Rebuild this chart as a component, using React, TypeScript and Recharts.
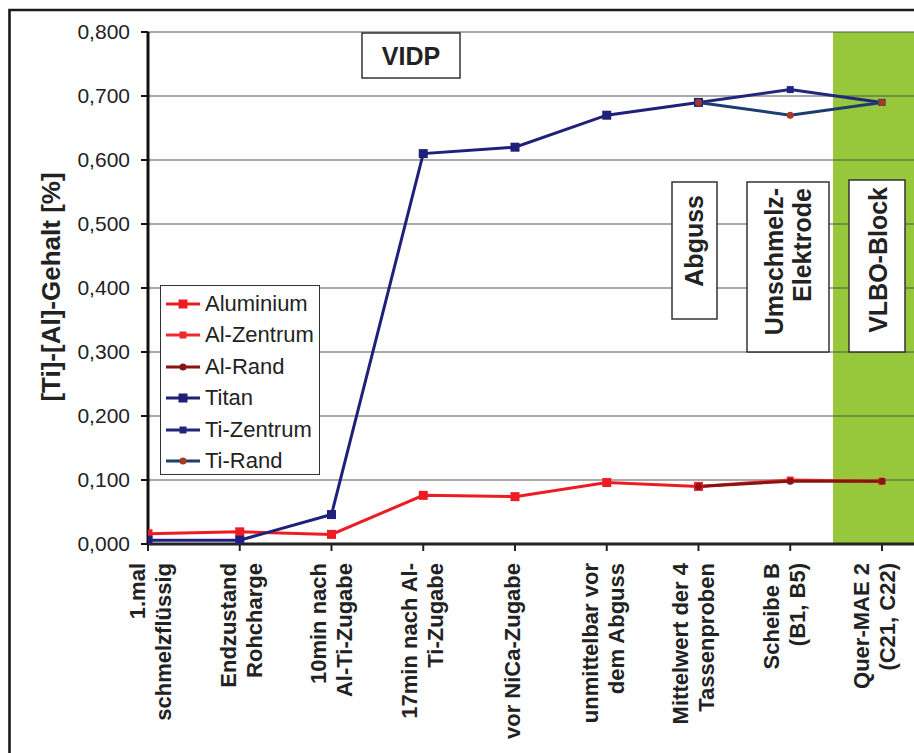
import React from "react"
import { LineChart, Line, XAxis, YAxis, CartesianGrid, Legend } from "recharts"

// sampling points along the process
const categories = [
  ["1.mal", "schmelzflüssig"],
  ["Endzustand", "Rohcharge"],
  ["10min nach", "Al-Ti-Zugabe"],
  ["17min nach Al-", "Ti-Zugabe"],
  ["vor NiCa-Zugabe"],
  ["unmittelbar vor", "dem Abguss"],
  ["Mittelwert der 4", "Tassenproben"],
  ["Scheibe B", "(B1, B5)"],
  ["Quer-MAE 2", "(C21, C22)"],
]

const aluminium = [0.016, 0.019, 0.015, 0.076, 0.074, 0.096, 0.09, null, null]
const alZentrum = [null, null, null, null, null, null, 0.09, 0.1, 0.098]
const alRand = [null, null, null, null, null, null, 0.09, 0.098, 0.098]
const titan = [0.006, 0.006, 0.046, 0.61, 0.62, 0.67, 0.69, null, null]
const tiZentrum = [null, null, null, null, null, null, 0.69, 0.71, 0.69]
const tiRand = [null, null, null, null, null, null, 0.69, 0.67, 0.69]

const yTicks = [0, 0.1, 0.2, 0.3, 0.4, 0.5, 0.6, 0.7, 0.8]
const xMax = 8.349 // plot runs past the last sample, cut at the picture edge
const vlboStart = 7.47 // green VLBO band starts here

const data = categories.map((c, i) => ({
  idx: i,
  aluminium: aluminium[i],
  alZentrum: alZentrum[i],
  alRand: alRand[i],
  titan: titan[i],
  tiZentrum: tiZentrum[i],
  tiRand: tiRand[i],
}))

type Series = { key: string; name: string; color: string; dot: string; shape: "square" | "circle"; size: number }

const series: Series[] = [
  { key: "aluminium", name: "Aluminium", color: "#ed1c24", dot: "#ed1c24", shape: "square", size: 9 },
  { key: "alZentrum", name: "Al-Zentrum", color: "#ee2a30", dot: "#ee2a30", shape: "square", size: 7 },
  { key: "alRand", name: "Al-Rand", color: "#8a1414", dot: "#8a1414", shape: "circle", size: 7 },
  { key: "titan", name: "Titan", color: "#1f2079", dot: "#1f2079", shape: "square", size: 9 },
  { key: "tiZentrum", name: "Ti-Zentrum", color: "#22267c", dot: "#22267c", shape: "square", size: 7 },
  { key: "tiRand", name: "Ti-Rand", color: "#1d3d6d", dot: "#a63a28", shape: "circle", size: 7 },
]

const FONT = "'Liberation Sans', Arial, sans-serif"

const marker = (s: Series, cx: number, cy: number) =>
  s.shape === "square" ? (
    <rect x={cx - s.size / 2} y={cy - s.size / 2} width={s.size} height={s.size} fill={s.dot} />
  ) : (
    <circle cx={cx} cy={cy} r={s.size / 2} fill={s.dot} />
  )

const makeDot = (s: Series) => (p: any) => {
  if (p.cx == null || p.cy == null || p.value == null) return <g key={`${s.key}-${p.index}`} />
  return <g key={`${s.key}-${p.index}`}>{marker(s, p.cx, p.cy)}</g>
}

// green band as a grid stripe, so the horizontal grid lines stay on top of it
const bandPoints = (args: any) => {
  const off = args?.offset ?? { left: 148, width: 766 }
  return [off.left, off.left + (off.width * vlboStart) / xMax]
}

const YTick = ({ x, y, payload }: any) => (
  <text x={x - 9} y={y + 7} textAnchor="end" fontFamily={FONT} fontSize={21} fill="#222">
    {payload.value.toFixed(3).replace(".", ",")}
  </text>
)

const XTick = ({ x, y, payload }: any) => {
  const i = payload.value as number
  const lines = categories[i]
  if (!lines) return null
  const a = x - 1.2 * i
  const top = y + 10
  const xs = lines.length === 1 ? [a + 9.5] : [a - 3, a + 23]
  return (
    <g>
      {lines.map((t, k) => (
        <text
          key={k}
          x={xs[k]}
          y={top}
          transform={`rotate(-90, ${xs[k]}, ${top})`}
          textAnchor="end"
          fontFamily={FONT}
          fontWeight="bold"
          fontSize={22}
          fill="#222"
        >
          {t}
        </text>
      ))}
    </g>
  )
}

const LegendBox = () => (
  <div
    style={{
      width: 160,
      height: 190,
      boxSizing: "border-box",
      border: "1.5px solid #333",
      background: "#fff",
      fontFamily: FONT,
      fontSize: 22,
      color: "#222",
      paddingTop: 2,
    }}
  >
    {series.map((s) => (
      <div key={s.key} style={{ display: "flex", alignItems: "center", height: 31.5 }}>
        <svg width={36} height={14} style={{ marginLeft: 5, flex: "none" }}>
          <line x1={0} y1={7} x2={34} y2={7} stroke={s.color} strokeWidth={3} />
          {marker(s, 17, 7)}
        </svg>
        <span style={{ marginLeft: 3, whiteSpace: "nowrap" }}>{s.name}</span>
      </div>
    ))}
  </div>
)

const boxText = { fontFamily: FONT, fontWeight: "bold" as const, fontSize: 25, fill: "#222" }

const Overlay = () => (
  <svg width={914} height={753} style={{ position: "absolute", left: 0, top: 0, pointerEvents: "none" }}>
    <path d="M9.5 753 L9.5 10 L914 10" fill="none" stroke="#1a1a1a" strokeWidth={2.6} />
    <text
      x={60}
      y={287}
      transform="rotate(-90, 60, 287)"
      textAnchor="middle"
      fontFamily={FONT}
      fontWeight="bold"
      fontSize={26}
      fill="#222"
    >
      [Ti]-[Al]-Gehalt [%]
    </text>

    <rect x={362} y={33} width={98} height={45} fill="#fff" stroke="#333" strokeWidth={1.5} />
    <text x={411} y={65} textAnchor="middle" {...boxText}>VIDP</text>

    <rect x={672} y={182} width={45} height={137} fill="#fff" stroke="#333" strokeWidth={1.5} />
    <text x={703} y={195} transform="rotate(-90, 703, 195)" textAnchor="end" {...boxText}>Abguss</text>

    <rect x={747} y={182} width={82} height={170} fill="#fff" stroke="#333" strokeWidth={1.5} />
    <text x={783} y={188} transform="rotate(-90, 783, 188)" textAnchor="end" {...boxText}>Umschmelz-</text>
    <text x={811} y={188} transform="rotate(-90, 811, 188)" textAnchor="end" {...boxText}>Elektrode</text>

    <rect x={849} y={180} width={56} height={172} fill="#fff" stroke="#333" strokeWidth={1.5} />
    <text x={887} y={187} transform="rotate(-90, 887, 187)" textAnchor="end" {...boxText}>VLBO-Block</text>
  </svg>
)

export default function App() {
  return (
    <div style={{ position: "fixed", left: 0, top: 0, width: 914, height: 753, background: "#fff", overflow: "hidden" }}>
      <LineChart width={914} height={753} data={data} margin={{ top: 32, right: 0, bottom: 0, left: 0 }}>
        <CartesianGrid
          horizontal={false}
          vertical
          stroke="none"
          verticalCoordinatesGenerator={bandPoints}
          verticalFill={["transparent", "#97c83b"]}
          fillOpacity={1}
        />
        <CartesianGrid vertical={false} stroke="#555" strokeWidth={1.2} />
        <XAxis
          type="number"
          dataKey="idx"
          domain={[0, xMax]}
          ticks={categories.map((_, i) => i)}
          interval={0}
          allowDataOverflow
          height={209}
          tick={<XTick />}
          tickSize={7}
          axisLine={{ stroke: "#222", strokeWidth: 3 }}
          tickLine={{ stroke: "#222", strokeWidth: 2 }}
        />
        <YAxis
          type="number"
          domain={[0, 0.8]}
          ticks={yTicks}
          width={148}
          tick={<YTick />}
          tickSize={7}
          axisLine={{ stroke: "#111", strokeWidth: 3 }}
          tickLine={{ stroke: "#111", strokeWidth: 2 }}
        />
        <Legend
          layout="vertical"
          align="center"
          verticalAlign="middle"
          content={<LegendBox />}
          wrapperStyle={{ left: 160, top: 285, width: 160, height: 190 }}
        />
        {series.map((s) => (
          <Line
            key={s.key}
            dataKey={s.key}
            name={s.name}
            type="linear"
            stroke={s.color}
            strokeWidth={3}
            dot={makeDot(s)}
            activeDot={false}
            isAnimationActive={false}
          />
        ))}
      </LineChart>
      <Overlay />
    </div>
  )
}
